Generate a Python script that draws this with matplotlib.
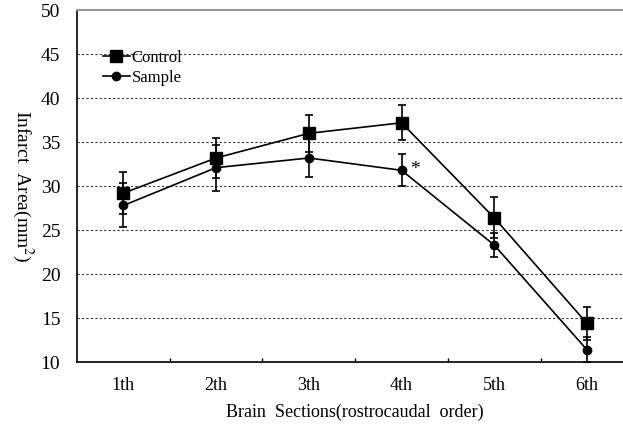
import matplotlib
matplotlib.use('Agg')
import matplotlib.pyplot as plt
from matplotlib.lines import Line2D
import numpy as np

# === Datos ===
secciones = ["1th", "2th", "3th", "4th", "5th", "6th"]
control = [29.2, 33.2, 36.0, 37.2, 26.4, 14.4]
control_err = [2.4, 2.3, 2.1, 2.0, 2.35, 1.9]
sample = [27.8, 32.1, 33.2, 31.8, 23.3, 11.4]
sample_err = [2.5, 2.6, 2.2, 1.8, 1.4, 1.4]

plt.rcParams['font.family'] = ['Liberation Serif', 'DejaVu Serif']
plt.rcParams['mathtext.fontset'] = 'stix'

fig = plt.figure(figsize=(6.23, 4.24), dpi=100)
ax = fig.add_axes([0.1236, 0.146, 0.893, 0.830])

x = np.arange(1, len(secciones) + 1)

# === Lineas de cuadricula ===
for yv in [15, 20, 25, 30, 35, 40, 45]:
    ax.axhline(yv, color='#333333', linestyle=(0, (2, 2)), linewidth=0.8, zorder=0)

ax.errorbar(x, control, yerr=control_err, color='black', marker='s', markersize=8,
            linewidth=1.2, elinewidth=1.2, capsize=3, capthick=1.2, zorder=3)
ax.errorbar(x, sample, yerr=sample_err, color='black', marker='o', markersize=6,
            linewidth=1.2, elinewidth=1.2, capsize=3, capthick=1.2, zorder=3)

ax.text(4.09, sample[3] + 0.1, '*', fontsize=14, ha='left', va='center')

ax.set_xlim(0.5, 6.5)
ax.set_ylim(10, 50)
ax.set_yticks(range(10, 51, 5))
ax.set_xticks(x)
ax.set_xticklabels(secciones)
ax.set_xticks(np.arange(1.5, 6.5, 1), minor=True)
ax.tick_params(axis='x', which='major', length=0, labelsize=13, pad=11)
ax.tick_params(axis='x', which='minor', direction='in', length=3, width=1)
ax.tick_params(axis='y', length=0, labelsize=14, pad=12)

ax.spines['right'].set_visible(False)
ax.spines['top'].set_color('#999999')
ax.spines['top'].set_linewidth(1.5)
ax.spines['left'].set_linewidth(1.2)
ax.spines['bottom'].set_linewidth(1.2)

ax.set_xlabel('Brain  Sections(rostrocaudal  order)', fontsize=13, labelpad=7)
ax.set_ylabel('Infarct  Area(mm$^2$)', fontsize=14, rotation=270)
ax.yaxis.set_label_coords(-0.12, 0.5)

# === Leyenda sin barras de error ===
handles = [
    Line2D([], [], color='black', marker='s', markersize=8, linewidth=1.2),
    Line2D([], [], color='black', marker='o', markersize=6, linewidth=1.2),
]
ax.legend(handles, ['Control', 'Sample'], loc='upper left', bbox_to_anchor=(0.035, 0.905),
          frameon=False, fontsize=12, handlelength=1.6, handletextpad=0.1,
          labelspacing=0.22, borderaxespad=0)

fig.savefig('out.png', dpi=100)
